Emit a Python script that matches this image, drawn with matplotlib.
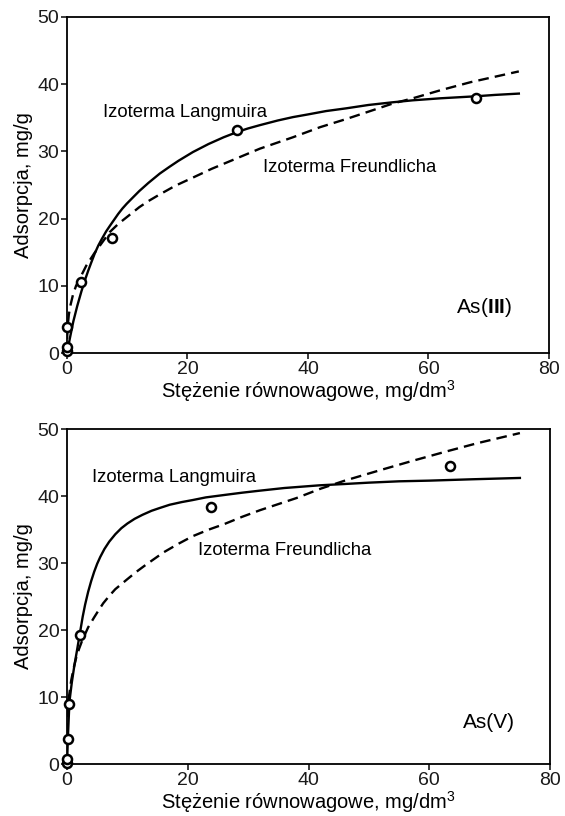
import numpy as np
import matplotlib
matplotlib.use("Agg")
import matplotlib.pyplot as plt

plt.rcParams['font.family'] = ['Liberation Sans', 'DejaVu Sans']
plt.rcParams['mathtext.fontset'] = 'custom'
plt.rcParams['mathtext.rm'] = 'Liberation Sans'
plt.rcParams['mathtext.bf'] = 'Liberation Sans:bold'

# --- As(III) ---
as3_pts_x = [0, 0.05, 0, 2.3, 7.5, 28.3, 67.9]
as3_pts_y = [0.3, 0.9, 3.9, 10.6, 17.1, 33.2, 38.0]

as3_lang_x = [0, 0.5, 1.05, 1.7, 2.4, 3.0, 3.5, 4.0, 4.6, 5.2, 5.8, 6.5, 7.1, 7.8, 8.5, 9.2, 9.9,
              11, 12, 13.5, 15.4, 17, 18.5, 20.9, 23.5, 26, 28.3, 30, 32, 35, 37.5, 40, 43,
              46.3, 50, 54, 57.4, 62, 67.9, 71, 75]
as3_lang_y = [0, 2.3, 4.7, 7.0, 9.2, 10.9, 12.2, 13.4, 14.8, 16.0, 17.0, 18.1, 18.9, 19.8, 20.7, 21.5, 22.2,
              23.2, 24.1, 25.3, 26.7, 27.7, 28.6, 29.9, 31.1, 32.1, 32.9, 33.4, 33.9, 34.6, 35.1, 35.5, 36.0,
              36.4, 36.9, 37.3, 37.6, 37.9, 38.2, 38.4, 38.6]

as3_freu_x = [0.02, 0.1, 0.3, 0.6, 1, 1.5, 2.3, 3.2, 4.5, 5.8, 7.1, 8.5, 9.9, 12, 13.5, 15.4, 18,
              20.9, 24, 28, 32, 37.5, 42, 46.3, 50, 54, 57.4, 62, 67, 71, 75]
as3_freu_y = [2.1, 3.8, 5.7, 7.2, 8.7, 10.0, 11.4, 13.0, 14.8, 16.4, 18.0, 19.2, 20.2, 21.7, 22.6, 23.6, 24.9,
              26.1, 27.4, 28.9, 30.4, 32.1, 33.6, 34.8, 35.9, 37.1, 37.9, 39.1, 40.3, 41.1, 41.9]

# --- As(V) ---
as5_pts_x = [0.05, 0.05, 0.1, 0.3, 2.15, 23.8, 63.5]
as5_pts_y = [0.1, 0.8, 3.8, 9.0, 19.3, 38.3, 44.5]

as5_lang_x = [0, 0.15, 0.4, 0.8, 1.2, 1.7, 2.15, 2.6, 3.0, 3.5, 4.0, 4.5, 5.0, 5.5, 6.2, 7.0, 8.0,
              9.0, 10, 11.2, 12.5, 14, 15.3, 17, 19, 20.8, 23, 26.4, 29, 31.9, 36, 41.8, 46, 50,
              55, 60, 67, 75]
as5_lang_y = [0, 4.0, 9.3, 12.2, 14.6, 17.2, 19.6, 22.0, 23.8, 25.7, 27.3, 28.7, 29.9, 30.9, 32.1, 33.2, 34.3,
              35.2, 35.9, 36.6, 37.2, 37.8, 38.2, 38.7, 39.1, 39.4, 39.8, 40.2, 40.5, 40.8, 41.2, 41.6, 41.8, 42.0,
              42.2, 42.3, 42.5, 42.7]

as5_freu_x = [0.02, 0.1, 0.3, 0.7, 1.1, 1.5, 2.0, 2.5, 3.0, 3.5, 4.5, 5.2, 6, 7, 8, 10, 11.5, 13, 16,
              18.5, 20.8, 23.5, 26, 29, 32, 35, 38, 42, 46, 52, 57, 63, 68, 75]
as5_freu_y = [4.5, 7.6, 9.9, 12.5, 14.3, 15.8, 17.2, 18.4, 19.4, 20.4, 21.9, 22.9, 24.0, 25.1, 26.1, 27.6, 28.7, 29.7, 31.6,
              32.9, 34.0, 35.0, 35.8, 36.9, 37.9, 38.8, 39.7, 41.1, 42.3, 43.9, 45.2, 46.7, 47.9, 49.4]

xticks = [0, 20, 40, 60, 80]
yticks = [0, 10, 20, 30, 40, 50]
xlabel = "Stężenie równowagowe, mg/dm$^{3}$"
ylabel = "Adsorpcja, mg/g"

fig = plt.figure(figsize=(5.65, 8.16), dpi=100)
ax1 = fig.add_axes([0.1186, 0.5674, 0.853, 0.4118])
ax2 = fig.add_axes([0.1186, 0.0637, 0.855, 0.4105])


def draw(ax, lx, ly, fx, fy, px, py):
    ax.plot(lx, ly, color="black", lw=1.7, solid_joinstyle="round")
    ax.plot(fx, fy, color="black", lw=1.7, linestyle=(0, (4.5, 2.6)))
    ax.plot(px, py, "o", ms=6.5, mfc="white", mec="black", mew=1.8, clip_on=False, zorder=5)
    ax.set_xlim(0, 80)
    ax.set_ylim(0, 50)
    ax.set_xticks(xticks)
    ax.set_yticks(yticks)
    ax.tick_params(labelsize=14, length=4, width=1.2, pad=1.5, colors="#1a1a1a")
    for s in ax.spines.values():
        s.set_linewidth(1.3)
    ax.set_xlabel(xlabel, fontsize=14.5, labelpad=0)
    ax.set_ylabel(ylabel, fontsize=14.5, labelpad=3)


draw(ax1, as3_lang_x, as3_lang_y, as3_freu_x, as3_freu_y, as3_pts_x, as3_pts_y)
ax1.text(6.0, 35.8, "Izoterma Langmuira", fontsize=13.3, va="center")
ax1.text(32.5, 27.6, "Izoterma Freundlicha", fontsize=13.3, va="center")
ax1.text(74.0, 6.7, r"As($\mathbf{III}$)", fontsize=15, va="center", ha="right")

draw(ax2, as5_lang_x, as5_lang_y, as5_freu_x, as5_freu_y, as5_pts_x, as5_pts_y)
ax2.text(4.1, 42.7, "Izoterma Langmuira", fontsize=13.3, va="center")
ax2.text(21.7, 31.9, "Izoterma Freundlicha", fontsize=13.3, va="center")
ax2.text(74.2, 6.2, "As(V)", fontsize=15, va="center", ha="right")

plt.savefig("out.png", dpi=100)
